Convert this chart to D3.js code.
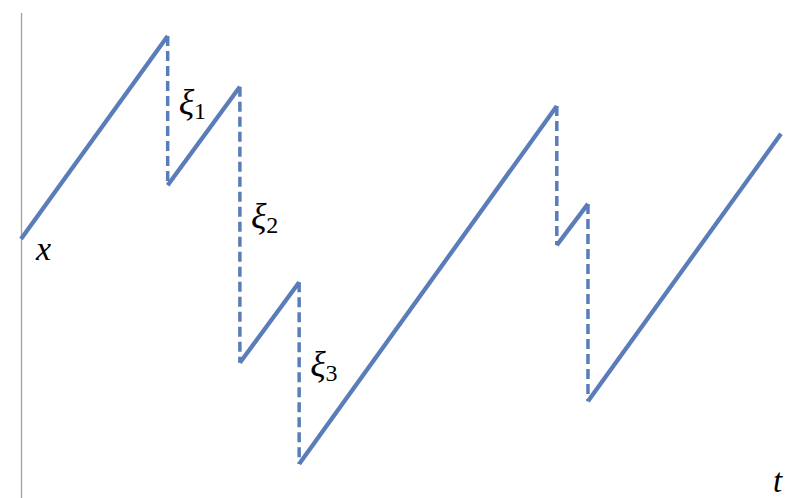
<!DOCTYPE html>
<html>
<head>
<meta charset="utf-8">
<script src="https://cdn.jsdelivr.net/npm/d3@7/dist/d3.min.js"></script>
<style>
  html, body { margin: 0; padding: 0; background: #fff; }
  svg { display: block; }
</style>
</head>
<body>
<svg id="chart" width="787" height="498"></svg>
<script>
// Surplus process: linear growth between claims, downward jumps at claim times
const startTime = 0;
const startValue = 5.23;
const claimTimes = [1.93, 2.88, 3.66, 7.05, 7.46];
const valueBeforeClaim = [9.46, 8.40, 4.33, 8.00, 5.96];
const valueAfterClaim = [6.35, 2.65, 0.54, 5.10, 1.85];
const endTime = 10;
const endValue = 7.42;
const claimLabels = ["1", "2", "3"];

const serif = "'Liberation Serif', 'Times New Roman', serif";
const svg = d3.select("#chart");
const x = d3.scaleLinear().domain([0, 10]).range([21, 781]);
const y = d3.scaleLinear().domain([0, 10]).range([490, 10]);
const blue = "#5a7db9";

// Vertical axis line
const yAxis = d3.axisLeft(y).tickValues([]).tickSizeOuter(0);
const axisG = svg.append("g")
  .attr("transform", `translate(${x(0) + 0.5},0)`)
  .call(yAxis);
axisG.select(".domain")
  .attr("stroke", "#a0a0a0")
  .attr("stroke-width", 1.3)
  .attr("d", `M0,13V498`);

// Rising segments
const segments = [];
let t0 = startTime, v0 = startValue;
claimTimes.forEach((t, i) => {
  segments.push([[t0, v0], [t, valueBeforeClaim[i]]]);
  t0 = t; v0 = valueAfterClaim[i];
});
segments.push([[t0, v0], [endTime, endValue]]);

const line = d3.line().x(d => x(d[0])).y(d => y(d[1]));

svg.append("g").selectAll("path.rise")
  .data(segments)
  .join("path")
  .attr("class", "rise")
  .attr("d", line)
  .attr("fill", "none")
  .attr("stroke", blue)
  .attr("stroke-width", 4.3);

// Claim jumps (dashed)
svg.append("g").selectAll("line.jump")
  .data(claimTimes)
  .join("line")
  .attr("class", "jump")
  .attr("x1", d => x(d))
  .attr("x2", d => x(d))
  .attr("y1", (d, i) => y(valueBeforeClaim[i]))
  .attr("y2", (d, i) => y(valueAfterClaim[i]))
  .attr("stroke", blue)
  .attr("stroke-width", 3.5)
  .attr("stroke-dasharray", "10,5");

// Claim labels ξ_i beside the first three jumps
claimLabels.forEach((sub, i) => {
  const jx = x(claimTimes[i]) + 11;
  const jy = (y(valueBeforeClaim[i]) + y(valueAfterClaim[i])) / 2 + 3;
  const txt = svg.append("text")
    .attr("x", jx)
    .attr("y", jy)
    .style("font-family", serif)
    .attr("font-size", 36)
    .attr("font-style", "italic");
  txt.append("tspan").text("ξ");
  txt.append("tspan")
    .attr("font-style", "normal")
    .attr("font-size", 24)
    .attr("dy", 5)
    .text(sub);
});

// Initial surplus label and time label
svg.append("text")
  .attr("x", x(0) + 15)
  .attr("y", y(startValue) + 21)
  .style("font-family", serif)
  .attr("font-size", 34)
  .attr("font-style", "italic")
  .text("x");

svg.append("text")
  .attr("x", 773)
  .attr("y", 492)
  .style("font-family", serif)
  .attr("font-size", 33)
  .attr("font-style", "italic")
  .text("t");
</script>
</body>
</html>
